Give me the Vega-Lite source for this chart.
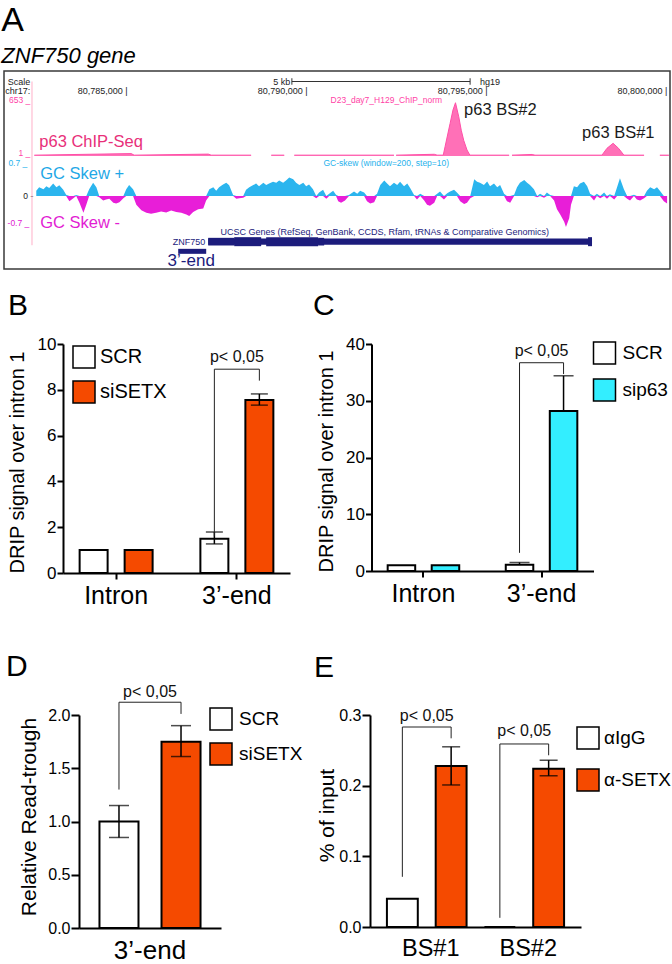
{
"$schema":"https://vega.github.io/schema/vega-lite/v6.json",
"padding":{"top":3,"left":0,"right":0,"bottom":0},
"config":{"font":"Liberation Sans","view":{"stroke":null},
"axis":{"domainColor":"black","tickColor":"black","labelColor":"black","titleColor":"black","grid":false,"titleFontWeight":"normal","domainWidth":2,"tickWidth":2},
"legend":{"labelColor":"black"},"title":{"color":"black","fontWeight":"normal"},"text":{"color":"black"}},
"spacing":20,
"resolve":{"scale":{"fill":"independent","xOffset":"independent","color":"independent","strokeWidth":"independent"},"legend":{"fill":"independent"}},
"vconcat":[
{
"width":666,"height":198,
"view":{"stroke":"#3a3a3a","strokeWidth":1.5},
"title":{"text":"A","subtitle":"ZNF750 gene","anchor":"start","frame":"group","dx":-2.7,"fontSize":34,"subtitleFontSize":22,"subtitleFontStyle":"italic","subtitleColor":"black","subtitlePadding":8,"offset":4},
"resolve":{"scale":{"y":"independent","color":"independent"}},
"layer":[
{"data":{"values":[{"pos":80782445,"sig":10},{"pos":80785140,"sig":28},{"pos":80785220,"sig":10},{"pos":80787280,"sig":22},{"pos":80787360,"sig":10},{"pos":80788470,"sig":10},{"pos":80788750,"sig":null},{"pos":80789030,"sig":10},{"pos":80789390,"sig":10},{"pos":80789530,"sig":null},{"pos":80789670,"sig":10},{"pos":80792440,"sig":10},{"pos":80792470,"sig":null},{"pos":80792500,"sig":10},{"pos":80793560,"sig":20},{"pos":80793640,"sig":10},{"pos":80793810,"sig":10},{"pos":80793860,"sig":108},{"pos":80793960,"sig":303},{"pos":80794000,"sig":380},{"pos":80794080,"sig":536},{"pos":80794150,"sig":621},{"pos":80794240,"sig":458},{"pos":80794310,"sig":300},{"pos":80794380,"sig":180},{"pos":80794470,"sig":70},{"pos":80794550,"sig":10},{"pos":80795640,"sig":10},{"pos":80795680,"sig":null},{"pos":80795720,"sig":10},{"pos":80796280,"sig":18},{"pos":80796360,"sig":10},{"pos":80798220,"sig":10},{"pos":80798360,"sig":90},{"pos":80798530,"sig":148},{"pos":80798680,"sig":90},{"pos":80798830,"sig":10},{"pos":80799390,"sig":10},{"pos":80799580,"sig":null},{"pos":80799830,"sig":10},{"pos":80800080,"sig":10}]},
"mark":{"type":"area","color":"#FF3399","invalid":"break-paths-show-domains","line":{"color":"#FF4FA7","strokeWidth":1}},
"encoding":{"x":{"field":"pos","type":"quantitative","scale":{"domain":[80781603,80800111],"nice":false,"zero":false},"axis":null},
"y":{"field":"sig","type":"quantitative","stack":null,"scale":{"domain":[0,653],"range":[85,29],"nice":false},"axis":null}}},
{"data":{"values":[{"pos":80782584,"sig":105,"label":"p63 ChIP-Seq","kind":"chip"},{"pos":80794389,"sig":478,"label":"p63 BS#2","kind":"site"},{"pos":80797667,"sig":210,"label":"p63 BS#1","kind":"site"}]},
"mark":{"type":"text","align":"left","baseline":"alphabetic","fontSize":16.5},
"encoding":{"x":{"field":"pos","type":"quantitative","scale":{"domain":[80781603,80800111],"nice":false,"zero":false},"axis":null},
"y":{"field":"sig","type":"quantitative","scale":{"domain":[0,653],"range":[85,29],"nice":false},"axis":null},
"text":{"field":"label"},
"color":{"field":"kind","type":"nominal","scale":{"domain":["chip","site"],"range":["#E8307A","#1a1a1a"]},"legend":null}}},
{"data":{"values":[{"pos":80782334,"sig":653,"label":"653 _"},{"pos":80782334,"sig":30,"label":"1 _"},{"pos":80793778,"sig":653,"label":"D23_day7_H129_ChIP_norm"}]},
"mark":{"type":"text","align":"right","baseline":"middle","fontSize":8.5,"color":"#FF3FA6"},
"encoding":{"x":{"field":"pos","type":"quantitative","scale":{"domain":[80781603,80800111],"nice":false,"zero":false},"axis":null},
"y":{"field":"sig","type":"quantitative","scale":{"domain":[0,653],"range":[85,29],"nice":false},"axis":null},
"text":{"field":"label"}}},
{"data":{"name":"gc","values":[{"pos":80782500,"skew":0.12},{"pos":80782580,"skew":0.2},{"pos":80782700,"skew":0.15},{"pos":80782780,"skew":0.22},{"pos":80782860,"skew":0.18},{"pos":80782970,"skew":0.28},{"pos":80783060,"skew":0.2},{"pos":80783140,"skew":0.24},{"pos":80783250,"skew":0.14},{"pos":80783330,"skew":0.03},{"pos":80783420,"skew":-0.12},{"pos":80783530,"skew":-0.05},{"pos":80783610,"skew":0.02},{"pos":80783700,"skew":-0.15},{"pos":80783810,"skew":-0.38},{"pos":80783890,"skew":-0.2},{"pos":80783970,"skew":0.15},{"pos":80784080,"skew":0.3},{"pos":80784170,"skew":0.2},{"pos":80784250,"skew":-0.03},{"pos":80784360,"skew":-0.1},{"pos":80784440,"skew":-0.08},{"pos":80784530,"skew":-0.06},{"pos":80784640,"skew":-0.15},{"pos":80784720,"skew":-0.17},{"pos":80784810,"skew":-0.14},{"pos":80784920,"skew":-0.05},{"pos":80785000,"skew":0.15},{"pos":80785080,"skew":0.25},{"pos":80785190,"skew":0.15},{"pos":80785280,"skew":-0.2},{"pos":80785420,"skew":-0.32},{"pos":80785560,"skew":-0.38},{"pos":80785690,"skew":-0.4},{"pos":80785830,"skew":-0.38},{"pos":80785970,"skew":-0.35},{"pos":80786110,"skew":-0.37},{"pos":80786250,"skew":-0.33},{"pos":80786390,"skew":-0.36},{"pos":80786530,"skew":-0.38},{"pos":80786670,"skew":-0.42},{"pos":80786750,"skew":-0.45},{"pos":80786860,"skew":-0.36},{"pos":80787000,"skew":-0.3},{"pos":80787140,"skew":-0.28},{"pos":80787220,"skew":-0.1},{"pos":80787310,"skew":0.15},{"pos":80787420,"skew":0.2},{"pos":80787500,"skew":0.12},{"pos":80787580,"skew":0.2},{"pos":80787690,"skew":0.26},{"pos":80787780,"skew":0.3},{"pos":80787860,"skew":0.24},{"pos":80787970,"skew":0.02},{"pos":80788060,"skew":-0.06},{"pos":80788140,"skew":-0.05},{"pos":80788250,"skew":-0.04},{"pos":80788330,"skew":0.14},{"pos":80788420,"skew":0.2},{"pos":80788530,"skew":0.25},{"pos":80788610,"skew":0.28},{"pos":80788690,"skew":0.22},{"pos":80788810,"skew":0.3},{"pos":80788890,"skew":0.25},{"pos":80788970,"skew":0.28},{"pos":80789080,"skew":0.32},{"pos":80789170,"skew":0.3},{"pos":80789250,"skew":0.35},{"pos":80789360,"skew":0.3},{"pos":80789440,"skew":0.35},{"pos":80789530,"skew":0.42},{"pos":80789640,"skew":0.38},{"pos":80789720,"skew":0.3},{"pos":80789810,"skew":0.25},{"pos":80789920,"skew":0.3},{"pos":80790000,"skew":0.22},{"pos":80790080,"skew":0.26},{"pos":80790190,"skew":0.15},{"pos":80790280,"skew":-0.05},{"pos":80790360,"skew":0.08},{"pos":80790470,"skew":0.14},{"pos":80790560,"skew":-0.06},{"pos":80790640,"skew":0.05},{"pos":80790750,"skew":0.12},{"pos":80790830,"skew":0.03},{"pos":80790890,"skew":-0.12},{"pos":80790970,"skew":-0.15},{"pos":80791080,"skew":-0.1},{"pos":80791190,"skew":0.02},{"pos":80791330,"skew":0.1},{"pos":80791420,"skew":0.05},{"pos":80791500,"skew":0.12},{"pos":80791610,"skew":0.08},{"pos":80791690,"skew":-0.12},{"pos":80791780,"skew":-0.17},{"pos":80791890,"skew":-0.14},{"pos":80791970,"skew":0.05},{"pos":80792060,"skew":0.25},{"pos":80792170,"skew":0.35},{"pos":80792250,"skew":0.28},{"pos":80792330,"skew":0.22},{"pos":80792440,"skew":0.3},{"pos":80792530,"skew":0.25},{"pos":80792610,"skew":0.32},{"pos":80792720,"skew":0.22},{"pos":80792810,"skew":0.28},{"pos":80792890,"skew":0.18},{"pos":80793000,"skew":0.02},{"pos":80793080,"skew":-0.08},{"pos":80793170,"skew":0.05},{"pos":80793280,"skew":-0.1},{"pos":80793360,"skew":-0.2},{"pos":80793440,"skew":-0.22},{"pos":80793560,"skew":-0.15},{"pos":80793640,"skew":0.05},{"pos":80793720,"skew":0.1},{"pos":80793830,"skew":-0.08},{"pos":80793920,"skew":0.06},{"pos":80794000,"skew":0.1},{"pos":80794110,"skew":0.14},{"pos":80794190,"skew":0.08},{"pos":80794280,"skew":-0.12},{"pos":80794390,"skew":-0.18},{"pos":80794470,"skew":-0.15},{"pos":80794560,"skew":-0.05},{"pos":80794670,"skew":0.38},{"pos":80794750,"skew":0.32},{"pos":80794830,"skew":0.3},{"pos":80794940,"skew":0.25},{"pos":80795030,"skew":0.33},{"pos":80795110,"skew":0.22},{"pos":80795220,"skew":0.28},{"pos":80795310,"skew":0.2},{"pos":80795390,"skew":0.25},{"pos":80795500,"skew":0.05},{"pos":80795580,"skew":-0.12},{"pos":80795670,"skew":-0.15},{"pos":80795780,"skew":0.03},{"pos":80795860,"skew":0.2},{"pos":80795940,"skew":0.3},{"pos":80796060,"skew":0.36},{"pos":80796140,"skew":0.3},{"pos":80796220,"skew":0.25},{"pos":80796330,"skew":0.15},{"pos":80796420,"skew":-0.03},{"pos":80796500,"skew":0.05},{"pos":80796610,"skew":-0.04},{"pos":80796690,"skew":0.08},{"pos":80796780,"skew":0.02},{"pos":80796890,"skew":-0.1},{"pos":80796970,"skew":-0.3},{"pos":80797060,"skew":-0.42},{"pos":80797170,"skew":-0.58},{"pos":80797220,"skew":-0.7},{"pos":80797310,"skew":-0.5},{"pos":80797360,"skew":-0.2},{"pos":80797440,"skew":0.22},{"pos":80797530,"skew":0.2},{"pos":80797610,"skew":0.28},{"pos":80797720,"skew":0.32},{"pos":80797810,"skew":0.22},{"pos":80797890,"skew":0.05},{"pos":80798000,"skew":-0.1},{"pos":80798080,"skew":0.05},{"pos":80798170,"skew":-0.05},{"pos":80798280,"skew":0.08},{"pos":80798360,"skew":-0.06},{"pos":80798440,"skew":0.04},{"pos":80798560,"skew":-0.08},{"pos":80798640,"skew":0.2},{"pos":80798720,"skew":0.4},{"pos":80798830,"skew":0.15},{"pos":80798920,"skew":-0.06},{"pos":80799000,"skew":-0.1},{"pos":80799110,"skew":0.03},{"pos":80799190,"skew":-0.08},{"pos":80799280,"skew":-0.1},{"pos":80799390,"skew":-0.05},{"pos":80799470,"skew":0.12},{"pos":80799560,"skew":0.2},{"pos":80799670,"skew":0.15},{"pos":80799750,"skew":0.2},{"pos":80799830,"skew":0.12},{"pos":80799940,"skew":-0.12},{"pos":80800030,"skew":-0.17}]},
"mark":{"type":"area","color":"#2BB5EE"},
"encoding":{"x":{"field":"pos","type":"quantitative","scale":{"domain":[80781603,80800111],"nice":false,"zero":false},"axis":null},
"y":{"field":"skew","type":"quantitative","stack":null,"scale":{"domain":[0,0.7],"range":[125,94],"clamp":true,"nice":false},"axis":null}}},
{"data":{"name":"gc"},
"mark":{"type":"area","color":"#E81ED8"},
"encoding":{"x":{"field":"pos","type":"quantitative","scale":{"domain":[80781603,80800111],"nice":false,"zero":false},"axis":null},
"y":{"field":"skew","type":"quantitative","stack":null,"scale":{"domain":[-0.7,0],"range":[156,125],"clamp":true,"nice":false},"axis":null}}},
{"data":{"values":[{"pos":80782611,"skew":0.384,"label":"GC Skew +","kind":"pos"},{"pos":80782611,"skew":-0.72,"label":"GC Skew -","kind":"neg"}]},
"mark":{"type":"text","align":"left","baseline":"alphabetic","fontSize":16.5},
"encoding":{"x":{"field":"pos","type":"quantitative","scale":{"domain":[80781603,80800111],"nice":false,"zero":false},"axis":null},
"y":{"field":"skew","type":"quantitative","scale":{"domain":[-0.7,0.7],"range":[156,94],"nice":false},"axis":null},
"text":{"field":"label"},
"color":{"field":"kind","type":"nominal","scale":{"domain":["pos","neg"],"range":["#1FA8E6","#E21DD3"]},"legend":null}}},
{"data":{"values":[{"pos":80782250,"skew":0.74,"label":"0.7 _","kind":"pos"},{"pos":80782417,"skew":0,"label":"0 -","kind":"zero"},{"pos":80782306,"skew":-0.6,"label":"-0.7 _","kind":"neg"},{"pos":80793972,"skew":0.756,"label":"GC-skew (window=200, step=10)","kind":"pos"}]},
"mark":{"type":"text","align":"right","baseline":"middle","fontSize":8.5},
"encoding":{"x":{"field":"pos","type":"quantitative","scale":{"domain":[80781603,80800111],"nice":false,"zero":false},"axis":null},
"y":{"field":"skew","type":"quantitative","scale":{"domain":[-0.7,0.7],"range":[156,94],"nice":false},"axis":null},
"text":{"field":"label"},
"color":{"field":"kind","type":"nominal","scale":{"domain":["pos","zero","neg"],"range":["#27B2EC","#222222","#E020D0"]},"legend":null}}},
{"data":{"values":[{"start":80787278,"end":80797944,"row":1,"part":"intron"},{"start":80787278,"end":80788000,"row":1,"part":"utr"},{"start":80788000,"end":80788750,"row":1,"part":"exon"},{"start":80788889,"end":80790333,"row":1,"part":"exon"},{"start":80790333,"end":80790500,"row":1,"part":"utr"},{"start":80797833,"end":80797944,"row":1,"part":"exon"},{"start":80786444,"end":80787222,"row":2,"part":"amplicon"}]},
"mark":{"type":"rule","color":"#1C1C7C"},
"encoding":{"x":{"field":"start","type":"quantitative","scale":{"domain":[80781603,80800111],"nice":false,"zero":false},"axis":null},
"x2":{"field":"end"},
"y":{"field":"row","type":"quantitative","scale":{"domain":[0,3],"range":[161,190],"nice":false},"axis":null},
"strokeWidth":{"field":"part","type":"nominal","scale":{"domain":["exon","utr","intron","amplicon"],"range":[9,5,1,6]},"legend":null}}},
{"data":{"values":[{"pos":80796750,"row":0,"label":"UCSC Genes (RefSeq, GenBank, CCDS, Rfam, tRNAs & Comparative Genomics)"},{"pos":80787195,"row":1,"label":"ZNF750"}]},
"mark":{"type":"text","align":"right","baseline":"middle","fontSize":9,"color":"#1C1C7C"},
"encoding":{"x":{"field":"pos","type":"quantitative","scale":{"domain":[80781603,80800111],"nice":false,"zero":false},"axis":null},
"y":{"field":"row","type":"quantitative","scale":{"domain":[0,3],"range":[161,190],"nice":false},"axis":null},
"text":{"field":"label"}}},
{"data":{"values":[{"pos":80786806,"row":3,"label":"3’-end"}]},
"mark":{"type":"text","align":"center","baseline":"middle","fontSize":17,"color":"#1C1C7C"},
"encoding":{"x":{"field":"pos","type":"quantitative","scale":{"domain":[80781603,80800111],"nice":false,"zero":false},"axis":null},
"y":{"field":"row","type":"quantitative","scale":{"domain":[0,3],"range":[161,190],"nice":false},"axis":null},
"text":{"field":"label"}}},
{"data":{"values":[{"pos":80782334,"row":0,"label":"Scale"},{"pos":80782334,"row":1,"label":"chr17:"},{"pos":80789556,"row":0,"label":"5 kb"},{"pos":80795389,"row":0,"label":"hg19"},{"pos":80785040,"row":1,"label":"80,785,000 |"},{"pos":80790040,"row":1,"label":"80,790,000 |"},{"pos":80795040,"row":1,"label":"80,795,000 |"},{"pos":80800040,"row":1,"label":"80,800,000 |"}]},
"mark":{"type":"text","align":"right","baseline":"middle","fontSize":9,"color":"#222222"},
"encoding":{"x":{"field":"pos","type":"quantitative","scale":{"domain":[80781603,80800111],"nice":false,"zero":false},"axis":null},
"y":{"field":"row","type":"quantitative","scale":{"domain":[0,2],"range":[10.5,29],"nice":false},"axis":null},
"text":{"field":"label"}}},
{"data":{"values":[{"start":80789603,"end":80794556,"row":0}]},
"mark":{"type":"rule","color":"#333333","strokeWidth":1},
"encoding":{"x":{"field":"start","type":"quantitative","scale":{"domain":[80781603,80800111],"nice":false,"zero":false},"axis":null},
"x2":{"field":"end"},
"y":{"field":"row","type":"quantitative","scale":{"domain":[0,2],"range":[10.5,29],"nice":false},"axis":null}}},
{"data":{"values":[{"pos":80789603,"r1":-0.35,"r2":0.35},{"pos":80794556,"r1":-0.35,"r2":0.35}]},
"mark":{"type":"rule","color":"#333333","strokeWidth":1},
"encoding":{"x":{"field":"pos","type":"quantitative","scale":{"domain":[80781603,80800111],"nice":false,"zero":false},"axis":null},
"y":{"field":"r1","type":"quantitative","scale":{"domain":[0,2],"range":[10.5,29],"nice":false},"axis":null},
"y2":{"field":"r2"}}},
{"data":{"values":[{"pos":80782381,"r1":0,"r2":17.7}]},
"mark":{"type":"rule","color":"#FFB0C8","strokeWidth":1},
"encoding":{"x":{"field":"pos","type":"quantitative","scale":{"domain":[80781603,80800111],"nice":false,"zero":false},"axis":null},
"y":{"field":"r1","type":"quantitative","scale":{"domain":[0,2],"range":[10.5,29],"nice":false},"axis":null},
"y2":{"field":"r2"}}}
]
},
{
"spacing":43,
"resolve":{"scale":{"fill":"independent","xOffset":"independent","color":"independent","strokeWidth":"independent"},"legend":{"fill":"independent"}},
"vconcat":[
{"spacing":0,
"resolve":{"scale":{"fill":"independent","xOffset":"independent","color":"independent","strokeWidth":"independent"},"legend":{"fill":"independent"}},
"hconcat":[
{"width":2,"height":1,"data":{"values":[]},"mark":"point"},
{"spacing":22.5,
"resolve":{"scale":{"fill":"independent","xOffset":"independent","color":"independent","strokeWidth":"independent"},"legend":{"fill":"independent"}},
"hconcat":[
{
"width":227,"height":229,
"title":{"text":"B","anchor":"start","frame":"group","dx":-55,"fontSize":30,"baseline":"alphabetic","offset":-9.5},
"data":{"values":[{"cat":"Intron","grp":"SCR","val":1.0},{"cat":"Intron","grp":"siSETX","val":1.0},{"cat":"3’-end","grp":"SCR","val":1.5,"lo":1.27,"hi":1.79},{"cat":"3’-end","grp":"siSETX","val":7.55,"lo":7.33,"hi":7.82}]},
"layer":[
{"mark":{"type":"bar","stroke":"black","strokeWidth":2},
"encoding":{
"x":{"field":"cat","type":"nominal","sort":["Intron","3’-end"],"scale":{"paddingInner":0.28,"paddingOuter":0.08},"axis":{"title":null,"labelAngle":0,"labelFontSize":25,"labelPadding":4,"tickSize":6}},
"xOffset":{"field":"grp","type":"nominal","sort":["SCR","siSETX"],"scale":{"paddingInner":0.378,"paddingOuter":0.155}},
"y":{"field":"val","type":"quantitative","scale":{"domain":[0,10],"nice":false},"axis":{"values":[0,2,4,6,8,10],"title":"DRIP signal over intron 1","titleFontSize":20,"titleX":-40,"titleY":118,"titleBaseline":"alphabetic","titleAlign":"center","labelFontSize":17,"labelPadding":1,"tickSize":6}},
"fill":{"field":"grp","type":"nominal","scale":{"domain":["SCR","siSETX"],"range":["#ffffff","#F54A00"]},"legend":{"title":null,"orient":"none","legendX":9,"legendY":1,"symbolType":"square","symbolSize":484,"symbolStrokeColor":"black","symbolStrokeWidth":1.5,"labelFontSize":20,"rowPadding":7,"labelOffset":4,"padding":0}}}},
{"mark":{"type":"rule","strokeWidth":1.5,"color":"black"},
"encoding":{"x":{"field":"cat","type":"nominal","sort":["Intron","3’-end"]},"xOffset":{"field":"grp","type":"nominal","sort":["SCR","siSETX"]},"y":{"field":"lo","type":"quantitative"},"y2":{"field":"hi"}}},
{"mark":{"type":"tick","thickness":1.5,"size":17,"color":"black"},
"encoding":{"x":{"field":"cat","type":"nominal","sort":["Intron","3’-end"]},"xOffset":{"field":"grp","type":"nominal","sort":["SCR","siSETX"]},"y":{"field":"lo","type":"quantitative"}}},
{"mark":{"type":"tick","thickness":1.5,"size":17,"color":"black"},
"encoding":{"x":{"field":"cat","type":"nominal","sort":["Intron","3’-end"]},"xOffset":{"field":"grp","type":"nominal","sort":["SCR","siSETX"]},"y":{"field":"hi","type":"quantitative"}}},
{"data":{"values":[{"cat":"3’-end","grp":"SCR","y":1.6,"o":1},{"cat":"3’-end","grp":"SCR","y":8.9,"o":2},{"cat":"3’-end","grp":"siSETX","y":8.9,"o":3},{"cat":"3’-end","grp":"siSETX","y":8.4,"o":4}]},
"mark":{"type":"line","color":"#222222","strokeWidth":1},
"encoding":{"x":{"field":"cat","type":"nominal","sort":["Intron","3’-end"]},"xOffset":{"field":"grp","type":"nominal","sort":["SCR","siSETX"]},"y":{"field":"y","type":"quantitative"},"order":{"field":"o"}}},
{"data":{"values":[{"cat":"3’-end","y":9.21,"label":"p< 0,05"}]},
"mark":{"type":"text","fontSize":16,"baseline":"alphabetic","color":"#111111"},
"encoding":{"x":{"field":"cat","type":"nominal","sort":["Intron","3’-end"]},"y":{"field":"y","type":"quantitative"},"text":{"field":"label"}}}
]
},
{
"width":222,"height":227,
"title":{"text":"C","anchor":"start","frame":"group","dx":-58.5,"fontSize":30,"baseline":"alphabetic","offset":-9.5},
"data":{"values":[{"cat":"Intron","grp":"SCR","val":1.0},{"cat":"Intron","grp":"sip63","val":1.0},{"cat":"3’-end","grp":"SCR","val":1.1,"lo":1.1,"hi":1.5},{"cat":"3’-end","grp":"sip63","val":28.2,"lo":28.2,"hi":34.4}]},
"layer":[
{"mark":{"type":"bar","stroke":"black","strokeWidth":2},
"encoding":{
"x":{"field":"cat","type":"nominal","sort":["Intron","3’-end"],"scale":{"paddingInner":0.28,"paddingOuter":0.08},"axis":{"title":null,"labelAngle":0,"labelFontSize":25,"labelPadding":4,"tickSize":6}},
"xOffset":{"field":"grp","type":"nominal","sort":["SCR","sip63"],"scale":{"paddingInner":0.375,"paddingOuter":0.153}},
"y":{"field":"val","type":"quantitative","scale":{"domain":[0,40],"nice":false},"axis":{"values":[0,10,20,30,40],"title":"DRIP signal over intron 1","titleFontSize":20,"titleX":-39,"titleY":117,"titleBaseline":"alphabetic","titleAlign":"center","labelFontSize":17,"labelPadding":1,"tickSize":6}},
"fill":{"field":"grp","type":"nominal","scale":{"domain":["SCR","sip63"],"range":["#ffffff","#33EEFF"]},"legend":{"title":null,"orient":"none","legendX":221,"legendY":-3,"symbolType":"square","symbolSize":484,"symbolStrokeColor":"black","symbolStrokeWidth":1.5,"labelFontSize":19,"rowPadding":9,"labelOffset":6,"padding":0}}}},
{"mark":{"type":"rule","strokeWidth":1.5,"color":"black"},
"encoding":{"x":{"field":"cat","type":"nominal","sort":["Intron","3’-end"]},"xOffset":{"field":"grp","type":"nominal","sort":["SCR","sip63"]},"y":{"field":"lo","type":"quantitative"},"y2":{"field":"hi"}}},
{"mark":{"type":"tick","thickness":1.5,"size":20,"color":"black"},
"encoding":{"x":{"field":"cat","type":"nominal","sort":["Intron","3’-end"]},"xOffset":{"field":"grp","type":"nominal","sort":["SCR","sip63"]},"y":{"field":"hi","type":"quantitative"}}},
{"data":{"values":[{"cat":"3’-end","grp":"SCR","y":3.2,"o":1},{"cat":"3’-end","grp":"SCR","y":36.7,"o":2},{"cat":"3’-end","grp":"sip63","y":36.7,"o":3},{"cat":"3’-end","grp":"sip63","y":34.7,"o":4}]},
"mark":{"type":"line","color":"#222222","strokeWidth":1},
"encoding":{"x":{"field":"cat","type":"nominal","sort":["Intron","3’-end"]},"xOffset":{"field":"grp","type":"nominal","sort":["SCR","sip63"]},"y":{"field":"y","type":"quantitative"},"order":{"field":"o"}}},
{"data":{"values":[{"cat":"3’-end","y":37.9,"label":"p< 0,05"}]},
"mark":{"type":"text","fontSize":16,"baseline":"alphabetic","color":"#111111"},
"encoding":{"x":{"field":"cat","type":"nominal","sort":["Intron","3’-end"]},"y":{"field":"y","type":"quantitative"},"text":{"field":"label"}}}
]
}
]}
]},
{"spacing":0,
"resolve":{"scale":{"fill":"independent","xOffset":"independent","color":"independent","strokeWidth":"independent"},"legend":{"fill":"independent"}},
"hconcat":[
{"width":2,"height":1,"data":{"values":[]},"mark":"point"},
{"spacing":11,
"resolve":{"scale":{"fill":"independent","xOffset":"independent","color":"independent","strokeWidth":"independent"},"legend":{"fill":"independent"}},
"hconcat":[
{
"width":142,"height":213,
"title":{"text":"D","anchor":"start","frame":"group","dx":-73,"fontSize":30,"baseline":"alphabetic","offset":-22},
"data":{"values":[{"cat":"3’-end","grp":"SCR","val":1.0,"lo":0.85,"hi":1.15},{"cat":"3’-end","grp":"siSETX","val":1.75,"lo":1.61,"hi":1.9}]},
"layer":[
{"mark":{"type":"bar","stroke":"black","strokeWidth":2},
"encoding":{
"x":{"field":"cat","type":"nominal","scale":{"paddingInner":0,"paddingOuter":0},"axis":{"title":null,"labelAngle":0,"labelFontSize":26,"labelPadding":9,"ticks":false,"tickSize":0}},
"xOffset":{"field":"grp","type":"nominal","sort":["SCR","siSETX"],"scale":{"paddingInner":0.371,"paddingOuter":0.33}},
"y":{"field":"val","type":"quantitative","scale":{"domain":[0,2],"nice":false},"axis":{"values":[0,0.5,1,1.5,2],"format":".1f","title":"Relative Read-trough","titleFontSize":21,"titleX":-43.5,"titleY":101.5,"titleBaseline":"alphabetic","titleAlign":"center","labelFontSize":16,"labelPadding":1,"tickSize":8}},
"fill":{"field":"grp","type":"nominal","scale":{"domain":["SCR","siSETX"],"range":["#ffffff","#F54A00"]},"legend":{"title":null,"orient":"none","legendX":130,"legendY":-8,"symbolType":"square","symbolSize":484,"symbolStrokeColor":"black","symbolStrokeWidth":1.5,"labelFontSize":19,"rowPadding":7,"labelOffset":6,"padding":0}}}},
{"mark":{"type":"rule","strokeWidth":1.5,"color":"black"},
"encoding":{"x":{"field":"cat","type":"nominal"},"xOffset":{"field":"grp","type":"nominal","sort":["SCR","siSETX"]},"y":{"field":"lo","type":"quantitative"},"y2":{"field":"hi"}}},
{"mark":{"type":"tick","thickness":1.5,"size":20,"color":"black"},
"encoding":{"x":{"field":"cat","type":"nominal"},"xOffset":{"field":"grp","type":"nominal","sort":["SCR","siSETX"]},"y":{"field":"lo","type":"quantitative"}}},
{"mark":{"type":"tick","thickness":1.5,"size":20,"color":"black"},
"encoding":{"x":{"field":"cat","type":"nominal"},"xOffset":{"field":"grp","type":"nominal","sort":["SCR","siSETX"]},"y":{"field":"hi","type":"quantitative"}}},
{"data":{"values":[{"cat":"3’-end","grp":"SCR","y":1.3,"o":1},{"cat":"3’-end","grp":"SCR","y":2.12,"o":2},{"cat":"3’-end","grp":"siSETX","y":2.12,"o":3},{"cat":"3’-end","grp":"siSETX","y":2.01,"o":4}]},
"mark":{"type":"line","color":"#222222","strokeWidth":1},
"encoding":{"x":{"field":"cat","type":"nominal"},"xOffset":{"field":"grp","type":"nominal","sort":["SCR","siSETX"]},"y":{"field":"y","type":"quantitative"},"order":{"field":"o"}}},
{"data":{"values":[{"cat":"3’-end","y":2.17,"label":"p< 0,05"}]},
"mark":{"type":"text","fontSize":16,"baseline":"alphabetic","color":"#111111"},
"encoding":{"x":{"field":"cat","type":"nominal"},"y":{"field":"y","type":"quantitative"},"text":{"field":"label"}}}
]
},
{
"width":211,"height":212,
"title":{"text":"E","anchor":"start","frame":"group","dx":-56,"fontSize":30,"baseline":"alphabetic","offset":0.5},
"data":{"values":[{"cat":"BS#1","grp":"αIgG","val":0.04},{"cat":"BS#1","grp":"α-SETX","val":0.228,"lo":0.201,"hi":0.255},{"cat":"BS#2","grp":"αIgG","val":0},{"cat":"BS#2","grp":"α-SETX","val":0.224,"lo":0.214,"hi":0.236}]},
"layer":[
{"mark":{"type":"bar","stroke":"black","strokeWidth":2},
"encoding":{
"x":{"field":"cat","type":"nominal","sort":["BS#1","BS#2"],"scale":{"paddingInner":0.1,"paddingOuter":0.132},"axis":{"title":null,"labelAngle":0,"labelFontSize":23.5,"labelPadding":9,"ticks":false,"tickSize":0,"labelOffset":4}},
"xOffset":{"field":"grp","type":"nominal","sort":["αIgG","α-SETX"],"scale":{"paddingInner":0.367,"paddingOuter":0.083}},
"y":{"field":"val","type":"quantitative","scale":{"domain":[0,0.3],"nice":false},"axis":{"values":[0,0.1,0.2,0.3],"format":".1f","title":"% of input","titleFontSize":21,"titleX":-37,"titleY":100,"titleBaseline":"alphabetic","titleAlign":"center","labelFontSize":16,"labelPadding":1,"tickSize":8}},
"fill":{"field":"grp","type":"nominal","scale":{"domain":["αIgG","α-SETX"],"range":["#ffffff","#F54A00"]},"legend":{"title":null,"orient":"none","legendX":206,"legendY":11,"symbolType":"square","symbolSize":484,"symbolStrokeColor":"black","symbolStrokeWidth":1.5,"labelFontSize":19,"rowPadding":14,"labelOffset":4,"padding":0}}}},
{"mark":{"type":"rule","strokeWidth":1.5,"color":"black"},
"encoding":{"x":{"field":"cat","type":"nominal","sort":["BS#1","BS#2"]},"xOffset":{"field":"grp","type":"nominal","sort":["αIgG","α-SETX"]},"y":{"field":"lo","type":"quantitative"},"y2":{"field":"hi"}}},
{"mark":{"type":"tick","thickness":1.5,"size":18,"color":"black"},
"encoding":{"x":{"field":"cat","type":"nominal","sort":["BS#1","BS#2"]},"xOffset":{"field":"grp","type":"nominal","sort":["αIgG","α-SETX"]},"y":{"field":"lo","type":"quantitative"}}},
{"mark":{"type":"tick","thickness":1.5,"size":18,"color":"black"},
"encoding":{"x":{"field":"cat","type":"nominal","sort":["BS#1","BS#2"]},"xOffset":{"field":"grp","type":"nominal","sort":["αIgG","α-SETX"]},"y":{"field":"hi","type":"quantitative"}}},
{"data":{"values":[{"cat":"BS#1","grp":"αIgG","y":0.071,"o":1},{"cat":"BS#1","grp":"αIgG","y":0.283,"o":2},{"cat":"BS#1","grp":"α-SETX","y":0.283,"o":3},{"cat":"BS#1","grp":"α-SETX","y":0.267,"o":4},{"cat":"BS#2","grp":"αIgG","y":0.013,"o":1},{"cat":"BS#2","grp":"αIgG","y":0.259,"o":2},{"cat":"BS#2","grp":"α-SETX","y":0.259,"o":3},{"cat":"BS#2","grp":"α-SETX","y":0.243,"o":4}]},
"mark":{"type":"line","color":"#222222","strokeWidth":1},
"encoding":{"x":{"field":"cat","type":"nominal","sort":["BS#1","BS#2"]},"xOffset":{"field":"grp","type":"nominal","sort":["αIgG","α-SETX"]},"y":{"field":"y","type":"quantitative"},"detail":{"field":"cat"},"order":{"field":"o"}}},
{"data":{"values":[{"cat":"BS#1","y":0.2915,"label":"p< 0,05"},{"cat":"BS#2","y":0.27,"label":"p< 0,05"}]},
"mark":{"type":"text","fontSize":16,"baseline":"alphabetic","color":"#111111"},
"encoding":{"x":{"field":"cat","type":"nominal","sort":["BS#1","BS#2"]},"y":{"field":"y","type":"quantitative"},"text":{"field":"label"}}}
]
}
]}
]}
]
}
]
}
